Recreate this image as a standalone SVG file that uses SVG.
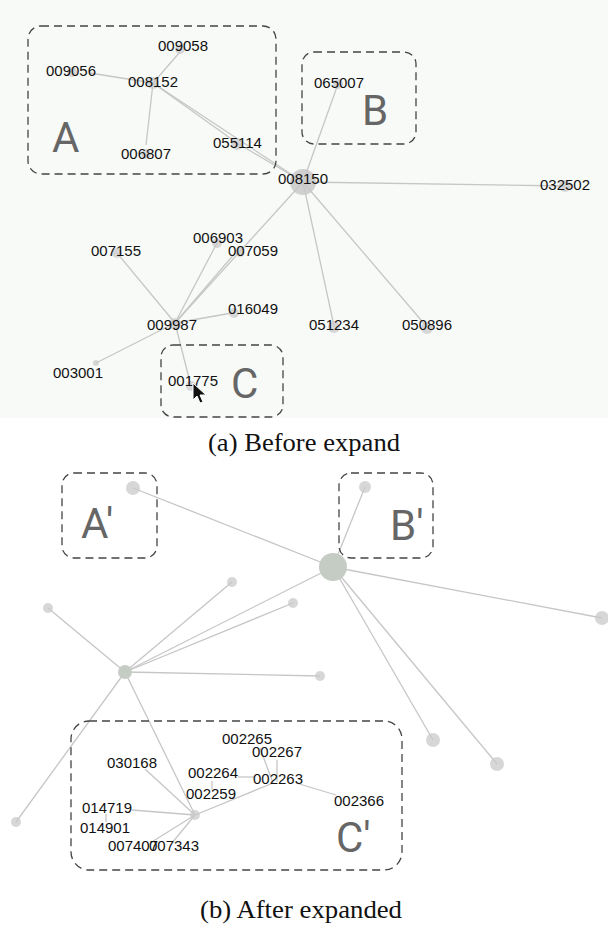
<svg xmlns="http://www.w3.org/2000/svg" width="608" height="926" viewBox="0 0 608 926">
<style>
.lbl{font-family:"Liberation Sans",Arial,sans-serif;font-size:15px;fill:#111;}
.big{font-family:"Roboto","Liberation Sans",sans-serif;font-size:42px;fill:#666;}
.cap{font-family:"Liberation Serif","Times New Roman",serif;font-size:25px;fill:#111;}
.box{fill:none;stroke:#444;stroke-width:1.3;stroke-dasharray:8 5;}
.edge{stroke:#c6c6c6;stroke-width:1.3;fill:none;}
.nd{fill:#c9c9c9;opacity:0.75;}
.hub{fill:#c4ccc4;}
</style>
<rect x="0" y="0" width="608" height="418" fill="#f8faf8"/>
<rect x="0" y="418" width="608" height="508" fill="#ffffff"/>
<g id="connectors">
  <line class="edge" x1="153" y1="83" x2="180" y2="52"/>
  <line class="edge" x1="153" y1="83" x2="90" y2="73"/>
  <line class="edge" x1="153" y1="83" x2="146" y2="145"/>
  <line class="edge" x1="153" y1="83" x2="237" y2="143"/>
  <line class="edge" x1="153" y1="83" x2="303" y2="182"/>
  <line class="edge" x1="237" y1="143" x2="303" y2="182"/>
  <line class="edge" x1="338" y1="84" x2="303" y2="182"/>
  <line class="edge" x1="303" y1="182" x2="565" y2="186"/>
  <line class="edge" x1="303" y1="182" x2="334" y2="326"/>
  <line class="edge" x1="303" y1="182" x2="427" y2="327"/>
  <line class="edge" x1="303" y1="182" x2="175" y2="323"/>
  <line class="edge" x1="175" y1="323" x2="117" y2="253"/>
  <line class="edge" x1="175" y1="323" x2="217" y2="243"/>
  <line class="edge" x1="175" y1="323" x2="236" y2="252"/>
  <line class="edge" x1="175" y1="323" x2="232" y2="313"/>
  <line class="edge" x1="175" y1="323" x2="96" y2="363"/>
  <line class="edge" x1="175" y1="323" x2="191" y2="386"/>
  <line class="edge" x1="133" y1="488" x2="333" y2="567"/>
  <line class="edge" x1="365" y1="487" x2="333" y2="567"/>
  <line class="edge" x1="333" y1="567" x2="602" y2="618"/>
  <line class="edge" x1="333" y1="567" x2="433" y2="740"/>
  <line class="edge" x1="333" y1="567" x2="497" y2="764"/>
  <line class="edge" x1="333" y1="567" x2="125" y2="672"/>
  <line class="edge" x1="125" y1="672" x2="48" y2="608"/>
  <line class="edge" x1="125" y1="672" x2="232" y2="582"/>
  <line class="edge" x1="125" y1="672" x2="293" y2="603"/>
  <line class="edge" x1="125" y1="672" x2="320" y2="676"/>
  <line class="edge" x1="125" y1="672" x2="16" y2="822"/>
  <line class="edge" x1="125" y1="672" x2="195" y2="815"/>
  <line class="edge" x1="195" y1="815" x2="145" y2="769"/>
  <line class="edge" x1="195" y1="815" x2="132" y2="810"/>
  <line class="edge" x1="195" y1="815" x2="150" y2="843"/>
  <line class="edge" x1="195" y1="815" x2="172" y2="843"/>
  <line class="edge" x1="195" y1="815" x2="273" y2="783"/>
  <line class="edge" x1="212" y1="781" x2="212" y2="790"/>
  <line class="edge" x1="238" y1="777" x2="254" y2="777"/>
  <line class="edge" x1="273" y1="783" x2="260" y2="748"/>
  <line class="edge" x1="277" y1="760" x2="277" y2="782"/>
  <line class="edge" x1="296" y1="783" x2="336" y2="795"/>
  <line class="edge" x1="106" y1="814" x2="106" y2="822"/>
</g>
<g id="groups">
  <rect id="boxA" class="box" x="28" y="26" width="248" height="148" rx="13"/>
  <rect id="boxB" class="box" x="302" y="52" width="114" height="92" rx="12"/>
  <rect id="boxC" class="box" x="161" y="345" width="122" height="72" rx="12"/>
  <rect id="boxA2" class="box" x="62" y="473" width="95" height="85" rx="12"/>
  <rect id="boxB2" class="box" x="339" y="473" width="94" height="85" rx="12"/>
  <rect id="boxC2" class="box" x="71" y="721" width="331" height="149" rx="18"/>
  <text class="big" x="52" y="152">A</text>
  <text class="big" x="362" y="125">B</text>
  <text class="big" x="231" y="398">C</text>
  <text class="big" x="81" y="538">A'</text>
  <text class="big" x="390" y="540">B'</text>
  <text class="big" x="336" y="852">C'</text>
</g>
<g id="n008150"><circle cx="303" cy="182" r="13" fill="#c8c8c8" opacity="0.85"/><text class="lbl" x="278" y="184">008150</text></g>
<g id="n008152"><circle class="nd" cx="153" cy="83" r="6"/><text class="lbl" x="128" y="87">008152</text></g>
<g id="n009058"><circle class="nd" cx="180" cy="49" r="5"/><text class="lbl" x="158" y="51">009058</text></g>
<g id="n009056"><circle class="nd" cx="72" cy="72" r="5"/><text class="lbl" x="46" y="76">009056</text></g>
<g id="n006807"><circle class="nd" cx="146" cy="154" r="5"/><text class="lbl" x="121" y="159">006807</text></g>
<g id="n055114"><circle class="nd" cx="237" cy="144" r="6"/><text class="lbl" x="213" y="148">055114</text></g>
<g id="n065007"><circle class="nd" cx="338" cy="84" r="5"/><text class="lbl" x="314" y="88">065007</text></g>
<g id="n032502"><circle class="nd" cx="565" cy="186" r="6"/><text class="lbl" x="540" y="190">032502</text></g>
<g id="n051234"><circle class="nd" cx="334" cy="327" r="6"/><text class="lbl" x="309" y="330">051234</text></g>
<g id="n050896"><circle class="nd" cx="427" cy="328" r="6"/><text class="lbl" x="402" y="330">050896</text></g>
<g id="n007155"><circle class="nd" cx="117" cy="253" r="5"/><text class="lbl" x="91" y="256">007155</text></g>
<g id="n006903"><circle class="nd" cx="217" cy="243" r="5"/><text class="lbl" x="193" y="243">006903</text></g>
<g id="n007059"><circle class="nd" cx="240" cy="252" r="5"/><text class="lbl" x="228" y="256">007059</text></g>
<g id="n016049"><circle class="nd" cx="234" cy="313" r="5"/><text class="lbl" x="228" y="314">016049</text></g>
<g id="n009987"><circle class="nd" cx="175" cy="324" r="6"/><text class="lbl" x="147" y="330">009987</text></g>
<g id="n003001"><circle class="nd" cx="96" cy="363" r="3" opacity="0.4"/><text class="lbl" x="53" y="378">003001</text></g>
<g id="n001775"><circle class="nd" cx="191" cy="386" r="5"/><text class="lbl" x="168" y="386">001775</text></g>
<g id="cursor"><polygon points="193,383 193,400 197,396 200,403 203,402 200,395 206,395" fill="#111" stroke="#fff" stroke-width="1"/></g>
<g id="bA"><circle class="nd" cx="133" cy="488" r="7"/></g>
<g id="bB"><circle class="nd" cx="365" cy="487" r="6"/></g>
<g id="bHub1"><circle class="hub" cx="333" cy="567" r="14"/></g>
<g id="bHub2"><circle class="hub" cx="125" cy="672" r="7"/></g>
<g id="bR"><circle class="nd" cx="602" cy="618" r="7"/></g>
<g id="bN1"><circle class="nd" cx="433" cy="740" r="7"/></g>
<g id="bN2"><circle class="nd" cx="497" cy="764" r="7"/></g>
<g id="bN3"><circle class="nd" cx="48" cy="608" r="5"/></g>
<g id="bN4"><circle class="nd" cx="232" cy="582" r="5"/></g>
<g id="bN5"><circle class="nd" cx="293" cy="603" r="5"/></g>
<g id="bN6"><circle class="nd" cx="320" cy="676" r="5"/></g>
<g id="bN7"><circle class="nd" cx="16" cy="822" r="5"/></g>
<g id="bC"><circle class="nd" cx="195" cy="815" r="5"/></g>
<g id="n002265"><text class="lbl" x="222" y="744">002265</text></g>
<g id="n002267"><text class="lbl" x="252" y="757">002267</text></g>
<g id="n030168"><text class="lbl" x="107" y="768">030168</text></g>
<g id="n002264"><text class="lbl" x="188" y="778">002264</text></g>
<g id="n002263"><text class="lbl" x="253" y="784">002263</text></g>
<g id="n002259"><text class="lbl" x="186" y="799">002259</text></g>
<g id="n002366"><text class="lbl" x="334" y="806">002366</text></g>
<g id="n014719"><text class="lbl" x="82" y="813">014719</text></g>
<g id="n014901"><text class="lbl" x="80" y="833">014901</text></g>
<g id="n007407"><text class="lbl" x="108" y="851">007407</text></g>
<g id="n007343"><text class="lbl" x="149" y="851">007343</text></g>
<text class="cap" x="304" y="451" text-anchor="middle" textLength="192" lengthAdjust="spacingAndGlyphs">(a) Before expand</text>
<text class="cap" x="301" y="918" text-anchor="middle" textLength="202" lengthAdjust="spacingAndGlyphs">(b) After expanded</text>
</svg>
